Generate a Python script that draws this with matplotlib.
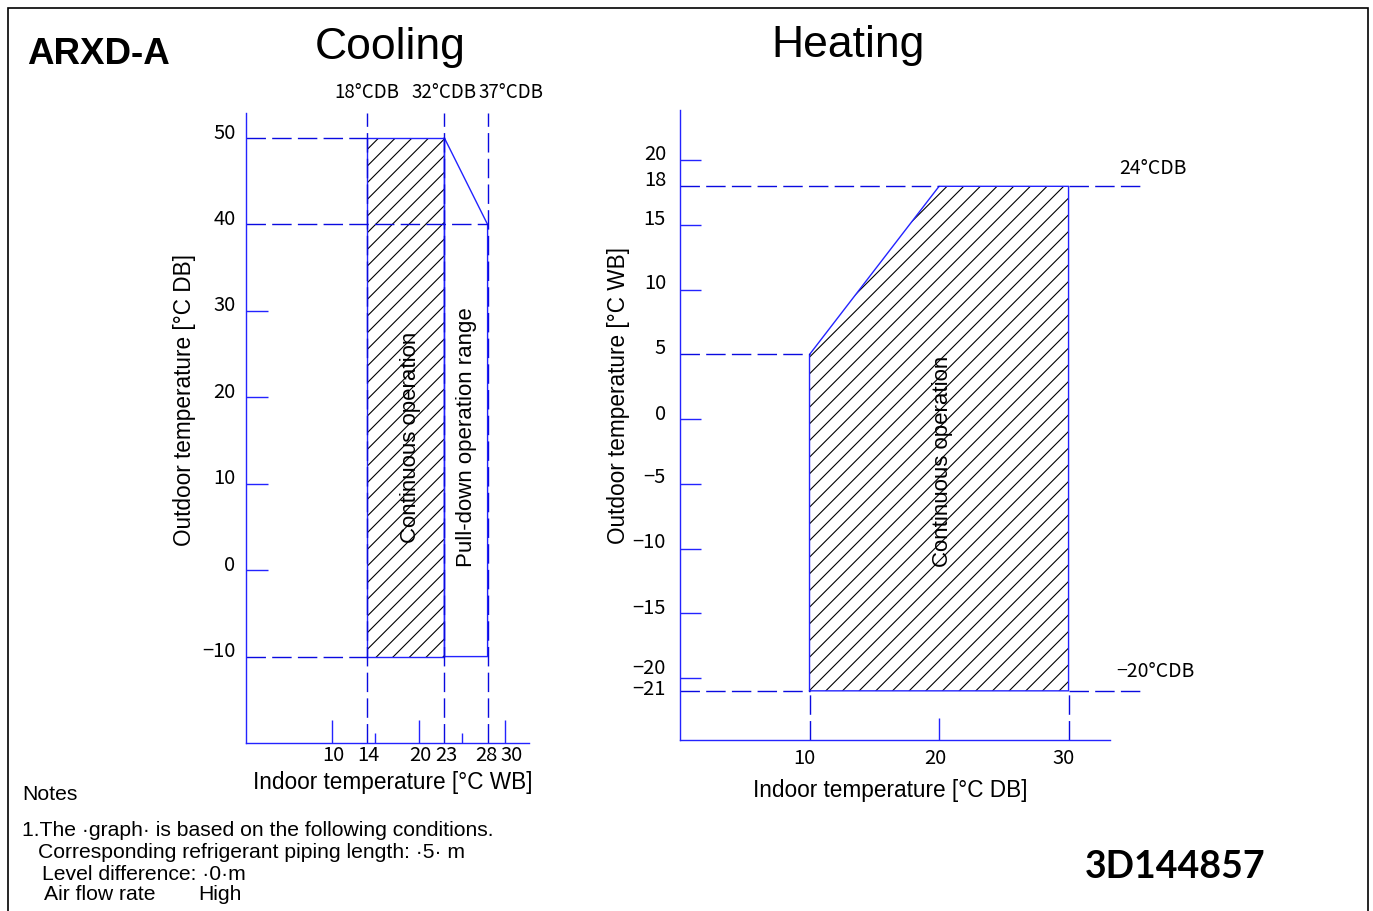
import numpy as np
import matplotlib
matplotlib.use('Agg')
import matplotlib.pyplot as plt
from matplotlib.patches import Polygon, Rectangle

# --- data ---
# cooling: indoor WB on x, outdoor DB on y
cool_cont_x = [14, 23, 23, 14]
cool_cont_y = [-10, -10, 50, 50]
cool_pull_x = [23, 28, 28, 23]
cool_pull_y = [50, 40, -10, -10]
cool_yticks = [50, 40, 30, 20, 10, 0, -10]
cool_ymarks = [30, 20, 10, 0]
cool_xticks = [10, 14, 20, 23, 28, 30]
cool_xmarks_long = [10, 20, 30]
cool_xmarks_short = [15, 25]
cool_top_labels = ['18°CDB', '32°CDB', '37°CDB']

# heating: indoor DB on x, outdoor WB on y
heat_x = [10, 10, 20, 30, 30]
heat_y = [-21, 5, 18, 18, -21]
heat_yticks = [20, 18, 15, 10, 5, 0, -5, -10, -15, -20, -21]
heat_ymarks = [20, 15, 10, 0, -5, -10, -15, -20]
heat_xticks = [10, 20, 30]
heat_xmarks = [20]
heat_side_labels = ['24°CDB', '−20°CDB']

W, H = 1373, 911
BLUE = '#2323ff'
DBLUE = '#0a0ae0'   # dashed guide lines look a bit darker
DASH = (0, (14, 4.5))
TICKFONT = ['Noto Sans CJK JP', 'DejaVu Sans']
SANS = ['Liberation Sans', 'DejaVu Sans']

plt.rcParams['font.family'] = SANS
plt.rcParams['hatch.linewidth'] = 0.8


def box(x0, y0, x1, y1):
    # pixel box -> figure fraction rect
    return [x0 / W, 1 - y1 / H, (x1 - x0) / W, (y1 - y0) / H]


def fx(x):
    return x / W


def fy(y):
    return 1 - y / H


def lbl(v):
    return str(v).replace('-', '−')


def style_axes(ax):
    ax.set_facecolor('none')
    for s in ['top', 'right']:
        ax.spines[s].set_visible(False)
    for s in ['left', 'bottom']:
        ax.spines[s].set_color(BLUE)
        ax.spines[s].set_linewidth(1.0)
    ax.set_xticks([])
    ax.set_yticks([])


def ytick_labels(ax, vals, dx, dy):
    # dx, dy in points; dy may be a list (one per label)
    if np.isscalar(dy):
        dy = [dy] * len(vals)
    for v, d in zip(vals, dy):
        ax.annotate(lbl(v), (0, v), xycoords=('axes fraction', 'data'),
                    xytext=(-dx, d), textcoords='offset points',
                    ha='right', va='center', family=TICKFONT, fontsize=14.5)


def xtick_labels(ax, vals, dy, dx):
    if np.isscalar(dx):
        dx = [dx] * len(vals)
    for v, d in zip(vals, dx):
        ax.annotate(lbl(v), (v, 0), xycoords=('data', 'axes fraction'),
                    xytext=(d, -dy), textcoords='offset points',
                    ha='center', va='center', family=TICKFONT, fontsize=14.5)


fig = plt.figure(figsize=(13.73, 9.11), dpi=100)

# ---------------- cooling ----------------
ax1 = fig.add_axes(box(246, 113, 529, 743))
style_axes(ax1)
ax1.set_xlim(0, 32.8)
ax1.set_ylim(-20, 52.9)

ax1.add_patch(Polygon(np.column_stack([cool_cont_x, cool_cont_y]), closed=True,
                      fill=False, hatch='//', edgecolor='black', lw=0))
ax1.plot(cool_cont_x + cool_cont_x[:1], cool_cont_y + cool_cont_y[:1], color=BLUE, lw=1)
ax1.plot(cool_pull_x + cool_pull_x[:1], cool_pull_y + cool_pull_y[:1], color=BLUE, lw=1)

# dashed guide lines
ax1.plot([0, cool_cont_x[0]], [cool_cont_y[2]] * 2, color=DBLUE, lw=1, ls=DASH)
ax1.plot([0, cool_pull_x[1]], [cool_pull_y[1]] * 2, color=DBLUE, lw=1, ls=DASH)
ax1.plot([0, cool_cont_x[0]], [cool_cont_y[0]] * 2, color=DBLUE, lw=1, ls=DASH)
for x in [cool_cont_x[0], cool_cont_x[1], cool_pull_x[1]]:
    ax1.plot([x, x], ax1.get_ylim(), color=DBLUE, lw=1, ls=DASH, clip_on=False)

ax1.hlines(cool_ymarks, 0, 0.078, transform=ax1.get_yaxis_transform(), colors=BLUE, lw=1)
ax1.vlines(cool_xmarks_long, 0, 0.0365, transform=ax1.get_xaxis_transform(), colors=BLUE, lw=1)
ax1.vlines(cool_xmarks_short, 0, 0.016, transform=ax1.get_xaxis_transform(), colors=BLUE, lw=1)

ytick_labels(ax1, cool_yticks, 7.5, 3.6)
xtick_labels(ax1, cool_xticks, 9, [1, 1, 1, 1, -1, 4.5])

for x, t, off in zip([cool_cont_x[0], cool_cont_x[1], cool_pull_x[1]], cool_top_labels, [0, 0, 17]):
    ax1.annotate(t, (x, 1), xycoords=('data', 'axes fraction'), xytext=(off, 14.4),
                 textcoords='offset points', ha='center', va='center',
                 family=TICKFONT, fontsize=13.5)

ax1.text(19.1, 15.4, 'Continuous operation', rotation=90, ha='center', va='center', fontsize=16)
ax1.text(25.6, 15.4, 'Pull-down operation range', rotation=90, ha='center', va='center', fontsize=16)

# ---------------- heating ----------------
ax2 = fig.add_axes(box(680, 110, 1110, 740))
style_axes(ax2)
ax2.set_xlim(0, 33.2)
ax2.set_ylim(-24.8, 23.9)

ax2.add_patch(Polygon(np.column_stack([heat_x, heat_y]), closed=True,
                      fill=False, hatch='//', edgecolor='black', lw=0))
ax2.plot(heat_x + heat_x[:1], heat_y + heat_y[:1], color=BLUE, lw=1)

ax2.plot([0, heat_x[2]], [heat_y[2]] * 2, color=DBLUE, lw=1, ls=DASH)
ax2.plot([heat_x[3], 35.9], [heat_y[3]] * 2, color=DBLUE, lw=1, ls=DASH, clip_on=False)
ax2.plot([0, heat_x[1]], [heat_y[1]] * 2, color=DBLUE, lw=1, ls=DASH)
ax2.plot([0, heat_x[0]], [heat_y[0]] * 2, color=DBLUE, lw=1, ls=DASH)
ax2.plot([heat_x[4], 35.9], [heat_y[4]] * 2, color=DBLUE, lw=1, ls=DASH, clip_on=False)
for x in [heat_x[0], heat_x[4]]:
    ax2.plot([x, x], [ax2.get_ylim()[0], heat_y[0]], color=DBLUE, lw=1, ls=DASH)

ax2.hlines(heat_ymarks, 0, 0.049, transform=ax2.get_yaxis_transform(), colors=BLUE, lw=1)
ax2.vlines(heat_xmarks, 0, 0.035, transform=ax2.get_xaxis_transform(), colors=BLUE, lw=1)

ytick_labels(ax2, heat_yticks, 10, [4.5, 4.3, 4.3, 4.3, 4.3, 3.6, 4.3, 4.3, 3.6, 6.5, 0.7])
xtick_labels(ax2, heat_xticks, 13.5, [-3.6, -3, -3.6])

ax2.annotate(heat_side_labels[0], (1, heat_y[2]), xycoords=('axes fraction', 'data'),
             xytext=(31, 13), textcoords='offset points', ha='center', va='center',
             family=TICKFONT, fontsize=14)
ax2.annotate(heat_side_labels[1], (1, heat_y[0]), xycoords=('axes fraction', 'data'),
             xytext=(33, 14), textcoords='offset points', ha='center', va='center',
             family=TICKFONT, fontsize=14)
ax2.text(20.3, -3.3, 'Continuous operation', rotation=90, ha='center', va='center', fontsize=16)

# ---------------- sheet text ----------------
fig.text(fx(185), fy(400), 'Outdoor temperature [°C DB]', rotation=90, ha='center', va='center', fontsize=16.3)
fig.text(fx(393), fy(783), 'Indoor temperature [°C WB]', ha='center', va='center', fontsize=16.3)
fig.text(fx(618), fy(395), 'Outdoor temperature [°C WB]', rotation=90, ha='center', va='center', fontsize=16.3)
fig.text(fx(890), fy(790), 'Indoor temperature [°C DB]', ha='center', va='center', fontsize=16.3)

fig.text(fx(390), fy(47), 'Cooling', ha='center', va='center', fontsize=32)
fig.text(fx(848), fy(45), 'Heating', ha='center', va='center', fontsize=32)
fig.text(fx(27), fy(55), 'ARXD-A', ha='left', va='center', fontsize=26.5, fontweight='bold')
fig.text(fx(1175), fy(867), '3D144857', ha='center', va='center', fontsize=27,
         fontweight='bold', family=['Lato', 'DejaVu Sans'])

fig.text(fx(22), fy(795), 'Notes', ha='left', va='center', fontsize=15.2)
fig.text(fx(22), fy(831), '1.The ·graph· is based on the following conditions.', ha='left', va='center', fontsize=15.2)
fig.text(fx(38), fy(853), 'Corresponding refrigerant piping length: ·5· m', ha='left', va='center', fontsize=15.2)
fig.text(fx(42), fy(874), 'Level difference: ·0·m', ha='left', va='center', fontsize=15.2)
fig.text(fx(44), fy(895), 'Air flow rate', ha='left', va='center', fontsize=15.2)
fig.text(fx(198), fy(895), 'High', ha='left', va='center', fontsize=15.2)

# drawing frame
fig.add_artist(Rectangle((fx(8), -0.01), (1368 - 8) / W, fy(8) + 0.01,
                         transform=fig.transFigure, fill=False, ec='black', lw=1.2))

fig.savefig('out.png', dpi=100)
